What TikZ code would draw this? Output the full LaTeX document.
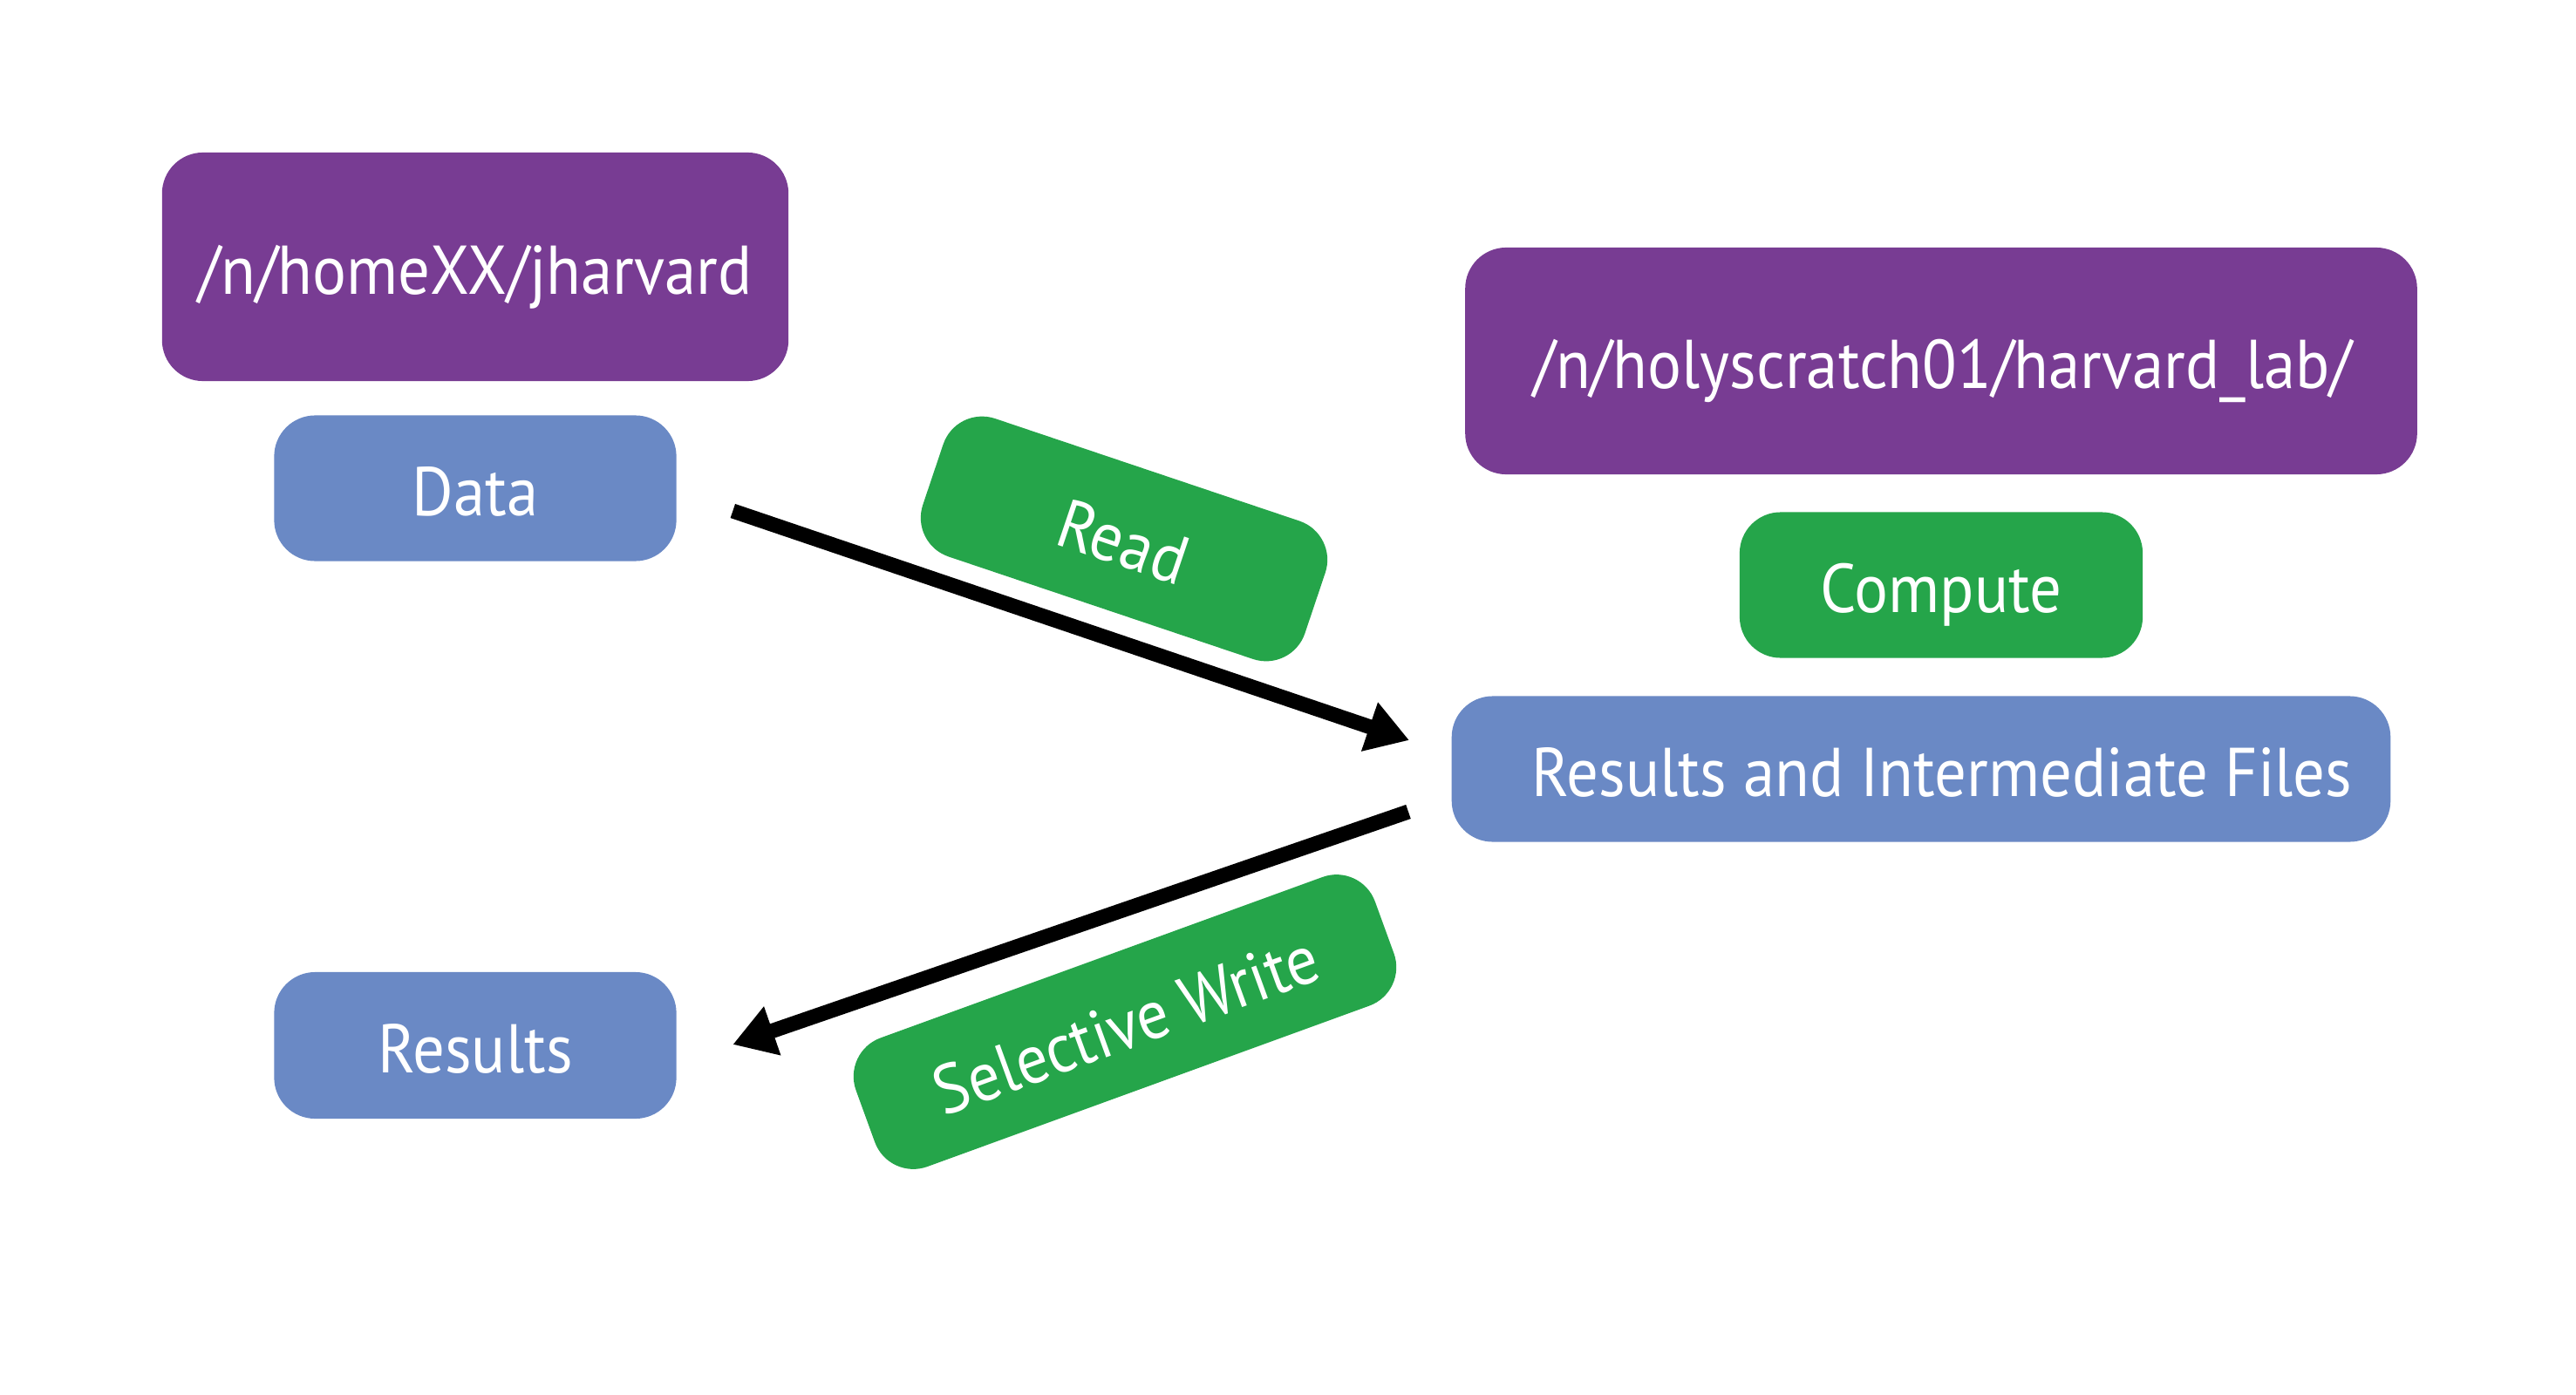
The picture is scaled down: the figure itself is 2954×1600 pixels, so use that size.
\documentclass[tikz,border=0pt]{standalone}
\usepackage{fontspec}
\setmainfont[FakeStretch=0.92]{PT Sans}
\usetikzlibrary{arrows.meta,calc}
\definecolor{cpurple}{HTML}{783C93}
\definecolor{cblue}{HTML}{6A89C5}
\definecolor{cgreen}{HTML}{25A54A}
\tikzset{
  box/.style={rounded corners=0.47cm, inner sep=0pt, text=white,
    text height=0.62cm, text depth=0cm,
    font=\fontsize{22.5}{27}\selectfont, anchor=center},
  pbox/.style={box, fill=cpurple},
  bbox/.style={box, fill=cblue},
  gbox/.style={box, fill=cgreen},
  flow/.style={line width=0.17cm, -{Triangle[length=0.48cm, width=0.56cm]}}
}
\begin{document}
\begin{tikzpicture}[x=0.01cm, y=-0.01cm]
\useasboundingbox[fill=white] (0,0) rectangle (2954,1600);
\node[pbox, minimum width=7.18cm, minimum height=2.62cm] (home) at (545,306) {/n/homeXX/jharvard};
\node[bbox, minimum width=4.61cm, minimum height=1.67cm] (data) at (545,560) {Data};
\node[pbox, minimum width=10.91cm, minimum height=2.60cm] (scratch) at (2226,414) {\hspace*{0.04cm}/n/holyscratch01/harvard\_lab/};
\node[gbox, minimum width=4.62cm, minimum height=1.67cm] (compute) at (2226,671) {Compute};
\node[bbox, minimum width=10.76cm, minimum height=1.67cm] (rif) at (2203,882) {\hspace*{0.48cm}Results and Intermediate Files};
\node[bbox, minimum width=4.61cm, minimum height=1.68cm] (results) at (545,1199) {Results};
\node[gbox, minimum width=4.62cm, minimum height=1.67cm, rotate=-18.6] (read) at (1289,618) {Read};
\node[gbox, minimum width=6.33cm, minimum height=1.57cm, rotate=20] (write) at (1290,1172) {Selective Write};
\coordinate (a1) at ($(data.east)+(64,26)$);
\coordinate (a2) at ($(rif.west)+(-48,-33)$);
\coordinate (b1) at ($(rif.west)+(-49,49)$);
\coordinate (b2) at ($(results.east)+(64,-1)$);
\draw[flow] (a1) -- (a2);
\draw[flow] (b1) -- (b2);
\end{tikzpicture}
\end{document}
